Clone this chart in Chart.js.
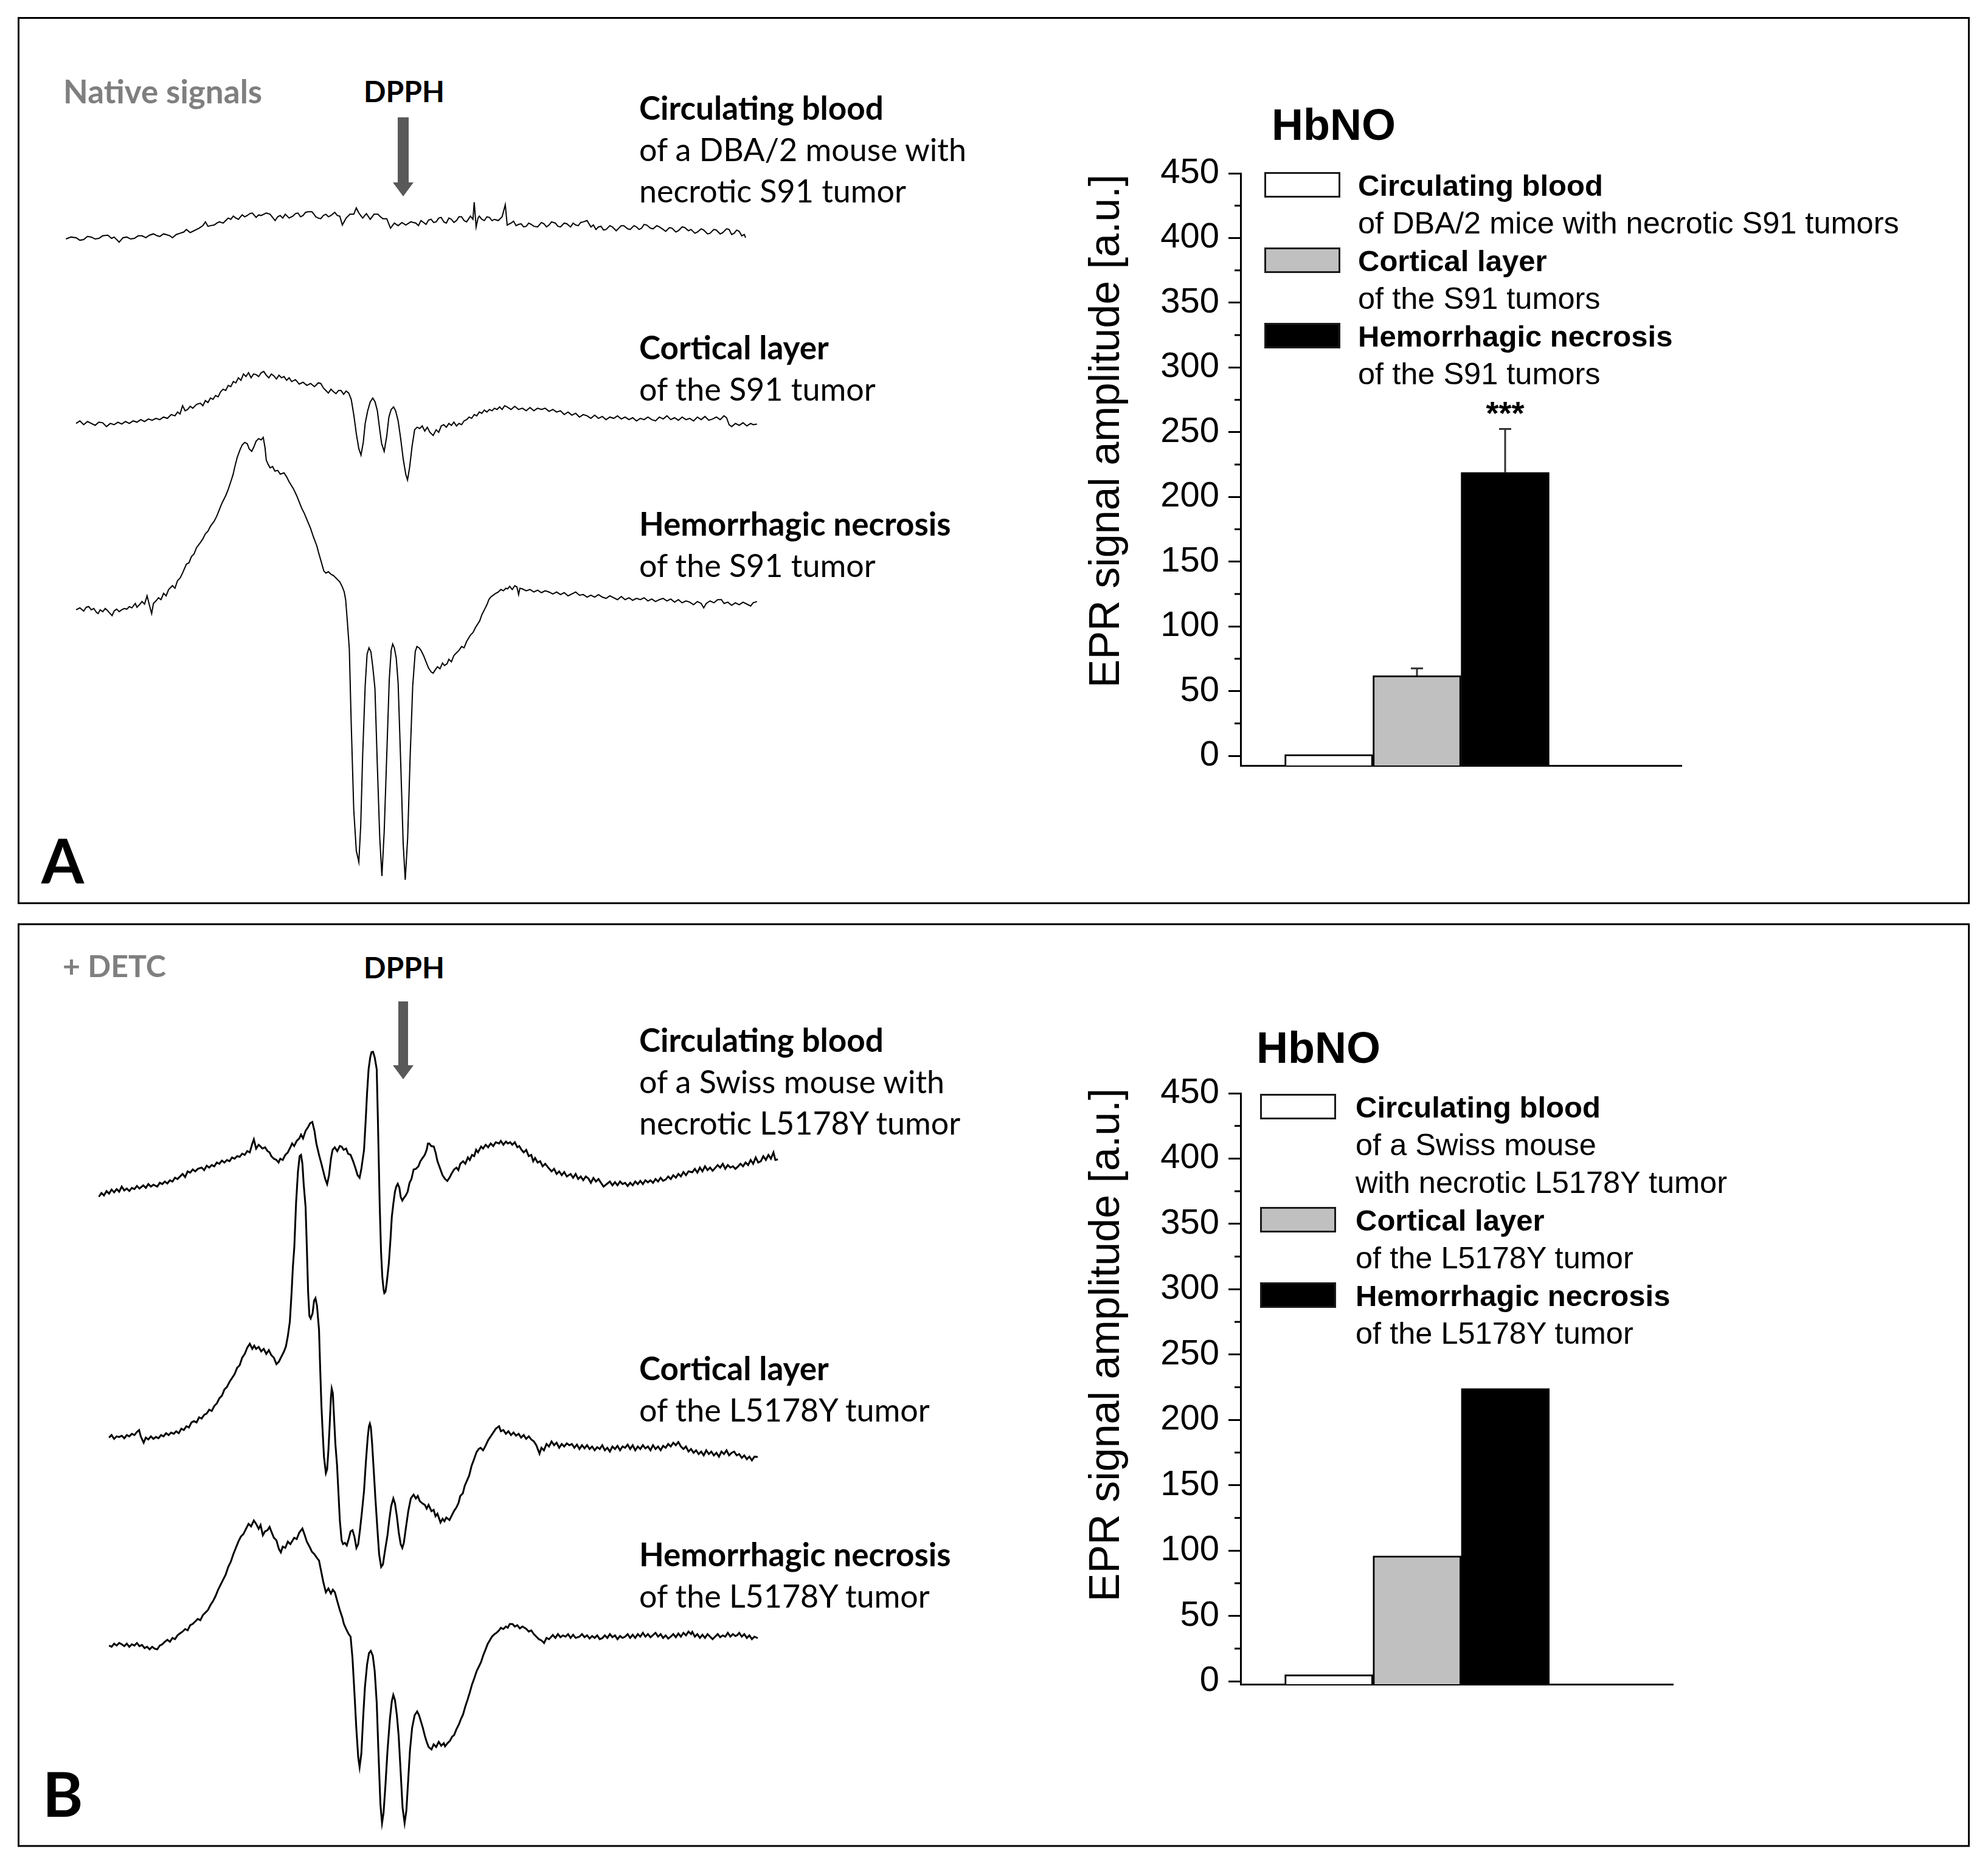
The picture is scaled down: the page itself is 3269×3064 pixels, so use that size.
<!DOCTYPE html>
<html>
<head>
<meta charset="utf-8">
<script src="https://cdn.jsdelivr.net/npm/chart.js@4.4.0/dist/chart.umd.min.js"></script>
<style>
  body { margin: 0; background: #fff; }
  #page { position: relative; width: 3269px; height: 3064px; background: #fff; overflow: hidden; }
  canvas { position: absolute; }
  .t { position: absolute; font-family: Lato, 'Open Sans', sans-serif; font-size: 52px; line-height: 68px; color: #000; white-space: nowrap; }
  .t b { font-weight: 700; font-size: 53px; }
  .hdr { font-weight: 700; font-size: 53px; }
  .grey { color: #7f7f7f; }
  .panel { position: absolute; font-family: Lato, sans-serif; font-weight: 700; font-size: 101px; line-height: 101px; }
  .arial { position: absolute; font-family: 'Liberation Sans', Arial, sans-serif; color: #000; white-space: nowrap; }
  .ytitle { font-size: 70px; transform: translate(-50%, -50%) rotate(-90deg); }
  .hb { font-size: 72px; line-height: 72px; font-weight: 700; }
  .leg { font-size: 50.5px; line-height: 62px; }
  .leg.first { font-size: 49px; font-weight: 700; }
  .box { position: absolute; width: 125px; height: 42px; box-sizing: border-box; border: 3px solid #1a1a1a; }
</style>
</head>
<body>
<div id="page">
  <svg width="3269" height="3064" style="position:absolute;left:0;top:0">
    <rect x="30.5" y="29.5" width="3207" height="1456" fill="none" stroke="#000" stroke-width="3"/>
    <rect x="30.5" y="1520" width="3207" height="1516" fill="none" stroke="#000" stroke-width="3"/>
    <rect x="654" y="193" width="18" height="110" fill="#595959"/>
    <polygon points="646,300 680,300 663,323" fill="#595959"/>
    <rect x="655" y="1647" width="16" height="108" fill="#595959"/>
    <polygon points="646,1752 680,1752 663,1775" fill="#595959"/>
  </svg>

  <div class="t hdr grey" style="left:104px;top:116px">Native signals</div>
  <div class="t hdr" style="left:598px;top:116px;font-size:48px">DPPH</div>
  <div class="t" style="left:1051px;top:143px"><b>Circulating blood</b><br>of a DBA/2 mouse with<br>necrotic S91 tumor</div>
  <div class="t" style="left:1051px;top:537px"><b>Cortical layer</b><br>of the S91 tumor</div>
  <div class="t" style="left:1051px;top:827px"><b>Hemorrhagic necrosis</b><br>of the S91 tumor</div>
  <div class="panel" style="left:68px;top:1364px">A</div>

  <div class="t hdr grey" style="left:103px;top:1554px;font-size:50px">+ DETC</div>
  <div class="t hdr" style="left:598px;top:1557px;font-size:48px">DPPH</div>
  <div class="t" style="left:1051px;top:1676px"><b>Circulating blood</b><br>of a Swiss mouse with<br>necrotic L5178Y tumor</div>
  <div class="t" style="left:1051px;top:2216px"><b>Cortical layer</b><br>of the L5178Y tumor</div>
  <div class="t" style="left:1051px;top:2522px"><b>Hemorrhagic necrosis</b><br>of the L5178Y tumor</div>
  <div class="panel" style="left:70px;top:2899px">B</div>

  <div class="arial hb" style="left:2091px;top:169px">HbNO</div>
  <div class="arial ytitle" style="left:1816px;top:709px">EPR signal amplitude [a.u.]</div>
  <div class="arial hb" style="left:2066px;top:1687px">HbNO</div>
  <div class="arial ytitle" style="left:1816px;top:2212px">EPR signal amplitude [a.u.]</div>
  <div id="legendA"></div>
  <div id="legendB"></div>

  <canvas id="tracesA" width="1334" height="1486" style="left:0;top:0"></canvas>
  <canvas id="tracesB" width="1334" height="1578" style="left:0;top:1486px"></canvas>
  <canvas id="barsA" width="885" height="1084" style="left:1900px;top:230px"></canvas>
  <canvas id="barsB" width="871" height="1082" style="left:1900px;top:1743px"></canvas>
</div>
<script>
// EPR spectra: [field (a.u.), signal amplitude (a.u.)]
const nativeBlood = [[52,0.5],[56,2],[60,1.5],[63,-0.5],[66,0],[69,2.5],[72,2],[75,0.5],[78,1],[81,3],[85,3.5],[88,1],[90,2],[94,-2],[97,1.5],[100,2],[103,0.5],[106,1],[109,3],[112,3],[115,1.5],[118,3.5],[121,4.5],[124,3],[126,2.5],[129,4.5],[131,4],[134,3],[136,1.5],[139,4],[142,5],[145,6],[147,8],[150,5.5],[152,6.5],[155,8],[157,9],[160,11],[162,14],[164,10.5],[166,11],[169,11.5],[171,13],[173,14],[176,13],[178,15],[180,17],[182,16],[184,18.5],[186,17],[188,16],[191,19.5],[193,18],[195,19],[197,20.5],[199,21],[202,17.5],[204,19.5],[206,19],[208,20],[210,21],[213,20],[215,17.5],[217,15],[219,18],[221,19],[223,17],[225,20],[228,17],[231,18.5],[233,20.5],[235,21],[237,18],[239,19],[241,21.5],[243,22],[246,22],[248,19.5],[249,18],[251,17],[253,16.5],[255,19],[257,20],[259,18],[261,19],[264,21.5],[266,19],[268,18.5],[270,11.5],[273,17],[276,20],[279,20],[281,25],[283,21],[286,17],[289,20.5],[292,16],[295,20],[298,20],[300,18],[302,16.5],[305,16.5],[308,9],[311,13],[314,11],[317,13.5],[320,11.5],[324,14],[328,13],[330,11],[332,15],[336,12],[338,15.5],[340,16],[342,13.5],[344,14],[346,17],[348,17.5],[350,14],[352,13],[354,17],[356,16],[358,13.5],[360,15],[362,18],[364,18],[366,15],[368,14],[371,18.5],[373,16],[374,29.5],[375.5,10],[377,17],[378,18.5],[380,16],[382,15],[384,18],[386,17.5],[388,15],[390,16],[393,15],[396,18],[398.5,27.5],[400,11.5],[403,13],[405,14.5],[407,11],[409,12],[411,12.5],[413,10],[415,10.5],[417,13],[419,12],[421,10.5],[424,10],[427,13.5],[429,12.5],[431,10],[433,11.5],[435,14],[438,13],[440,10.5],[442,10],[445,13],[447,12.5],[450,10],[452,13],[454,11.5],[456,11],[458,13.5],[460,14],[463,15],[466,10],[468,11.5],[470,8],[472,10],[474,10.5],[476,7.5],[478,8],[481,11],[483,10],[486,7],[488,9],[490,11],[492,11],[495,8.5],[497,8],[500,11],[502,10],[504,8],[506,9],[508,12],[510,11.5],[513,9],[515,8.5],[518,11],[520,10],[523,8],[525,6.5],[528,9.5],[530,9],[533,6],[535,7],[538,10],[540,9.5],[543,7],[545,8],[548,5],[550,6],[553,8.5],[555,7.5],[558,4.5],[560,5],[563,8],[565,7.5],[568,4.5],[570,5.5],[573,8.5],[575,8],[577,4],[579,5],[581,7.5],[583,6.5],[585,3],[587,4],[588,1.5]];

const nativeCortex = [[60,0],[63,2],[66,-1],[69,1.5],[72,0],[75,-1.5],[78,1],[81,0.5],[84,-2.5],[87,0],[90,-1],[93,1],[96,-0.5],[99,1.5],[102,0],[105,2],[108,1],[111,3],[114,1.5],[117,3.5],[120,2.5],[123,4],[126,3],[129,5],[132,4],[135,7],[138,6],[140,9],[142,7.5],[144,14],[146,10],[148,11],[150,13.5],[152,12],[155,15],[158,16],[160,14],[162,18],[164,16.5],[166,20],[168,19],[170,22],[172,21],[174,25],[176,27],[178,26],[180,30],[182,29],[184,33],[186,32],[188,36],[190,34],[192,39],[194,37],[196,40],[198,36],[200,39],[202,38.5],[204,37],[206,40],[208,41],[210,38],[212,36],[214,39],[216,37.5],[218,35],[220,38],[222,36],[224,37],[226,34],[228,36],[230,33],[233,34.5],[236,31],[239,32.5],[242,30],[245,31.5],[248,29],[251,32],[253,31.5],[255,28],[257,26],[259,24],[261,27],[263,25],[265,23.5],[267,26],[269,26],[271,23],[273,25.5],[275,24],[277,19],[279,7],[281,-8],[283,-20],[284.7,-25],[286.5,-15],[288,0],[290,10],[292,17],[294,20],[295.8,17],[297.6,10],[299.5,-5],[301,-16],[303,-22],[305,-10],[306.7,5],[308.5,11],[310.4,13],[312,10],[314,2],[316,-12],[318,-28],[320,-40],[321.4,-44.6],[323,-35],[325,-18],[327,-5],[329,-3],[331,-4],[333,-2],[335,-6],[337,-3],[339,-7],[341.6,-9.5],[344,-5],[346,-7],[348,-2],[350,-1],[352,-3],[354,0],[356,-1.5],[358,1],[360,-2],[362,0],[364,-1],[366,2],[368,3],[370,5],[372,4],[374,7],[376,6],[378,9],[380,8],[382,10.5],[384,9],[386,11],[388,10],[390,12],[392,11],[394,13],[396,11],[398,14],[400,13],[403,11],[406,13.5],[409,11],[412,12],[415,10],[418,12.5],[421,10],[424,12],[427,11],[430,12],[433,9.5],[436,11],[439,9],[442,10],[445,7],[448,9],[451,6.5],[454,8],[457,5],[460,7],[463,6],[466,4],[469,6.5],[472,4],[475,5.5],[478,3],[481,5],[484,4],[487,6],[490,3.5],[493,5],[496,3],[499,4.5],[502,2],[505,4],[508,3],[511,5],[514,3],[517,2],[520,5],[523,3.5],[526,6],[529,3],[532,4.5],[535,2.5],[538,5],[541,3],[544,4],[547,2],[550,5],[553,3],[556,5.5],[559,2.5],[562,3.5],[565,5],[568,3],[571,6],[573,4.5],[575,-1],[577,-2.5],[580,0],[583,-1.5],[586,0.5],[589,-2],[592,0],[594,-1],[597,-0.5]];

const nativeNecrosis = [[60,0],[63,1.5],[66,-1],[68,2],[70,2.5],[72,0],[74,1],[76,-2],[77.4,-3],[79,0],[81,-1.5],[83,1],[84.7,-0.5],[86,-2],[88.4,-4.6],[90,-1],[92,0.5],[94,-1.5],[96,0],[98,1],[100,0.5],[102,2.5],[104,1.5],[106.7,5],[108,2],[110,4],[112,6.5],[114,4.5],[116,11],[118,3],[119.6,-3],[121,5],[123,7],[125,9.5],[127,8],[129,13],[131,11],[133,16],[136,19],[138,17],[140,23],[142,25],[144,29],[147,36],[149,37],[151,42],[153,44],[155,49],[158,53],[160,56],[162,60],[164,62],[166,66],[169,70],[171,74],[173,79],[175,84],[176.5,87],[178,90],[180,95],[182,101],[183.8,106.6],[185,112],[187,120],[189.3,126.3],[191,130],[193,132],[195,131],[196.5,127],[198.5,125],[200,128],[202,133],[204,135],[206,134],[207.6,136],[209,128],[210,118],[211.3,115],[213,112],[215,113],[216.8,109.4],[219,110],[221,107],[224,108],[226,105],[228,101],[231.5,95.3],[234,90],[236,85],[238,80],[240,76],[242.5,70],[245,64],[247,58],[249.9,50.3],[251,46],[253,39],[255.4,30.6],[257,29],[259,30],[261,28],[263,27],[265,25],[268,22],[270,18],[271.5,14],[272.6,8],[274,-10],[275.5,-31],[277,-90],[279,-158],[281,-190],[283,-199],[284.5,-170],[286,-115],[288,-60],[289.5,-35],[291,-30],[292.5,-33],[294,-45],[295.7,-62],[297.5,-120],[299.5,-180],[301.2,-210],[303,-175],[305,-115],[307,-55],[308.5,-32],[309.7,-27],[311,-30],[312.5,-38],[314,-58],[316,-120],[318,-185],[319.6,-213],[321.5,-180],[323.5,-115],[325.5,-60],[327.5,-33],[328.8,-29],[330.5,-30],[332,-32],[334,-36],[336,-41],[338,-46],[340,-49],[341.6,-50],[343.5,-47],[345,-45],[347,-46.5],[349,-42],[350.5,-44],[352.6,-42.6],[354,-39],[356,-41],[358,-36],[360,-34],[362,-32],[364,-29],[366,-30],[368,-25],[371,-20],[373,-18],[375,-14],[378.3,-8.8],[380,-4],[382,0],[384,4],[385.6,8.1],[387,10],[389,11.5],[391,13],[393,14],[395,16],[397,15],[399,17],[400.3,16.5],[402,18.5],[404,16],[406,19],[407.7,18],[409,12],[410,17],[412,16.5],[415,15],[418,16],[421,14],[424,15.5],[427,13.5],[430,15],[433,14],[436,12.5],[439,14],[442,12],[445,13.5],[448,11],[451,12.5],[454,14],[457,11.5],[460,12],[463,10],[466,11.5],[469,10],[472,12],[475,10],[478,9],[481,11],[484,9.5],[487,8],[490,10.5],[493,8],[496,9.5],[499,7.5],[502,9],[505,8],[508,9.5],[511,7],[514,8.5],[517,6.5],[520,8],[523,9],[526,7],[529,8.5],[532,6],[535,8],[538,5.5],[541,7],[544,6],[547,4],[550,6.5],[553,5],[555,1.5],[557,5],[560,7],[563,5.5],[566,8],[569,8],[571,5],[574,6],[577,3.5],[580,5.5],[583,4],[586,6],[589,4.5],[592,3],[594,5.5],[597,6.5]];

const detcBlood = [[78,-2],[80,1],[82,-1],[84,2.5],[86,0.5],[88,3.7],[90,1.5],[92,4],[94,2],[96,6],[98,3],[100,4.5],[102,2.5],[104,5],[106,4],[108,6.5],[110,4.5],[113,7],[115,5],[117,8],[119,6],[121,7.5],[124,6],[126,9],[128,8],[130,10],[132,8.5],[134,11],[136,10],[138,13],[140,12],[142,14],[144,16],[146,13.5],[148,18],[150,17],[152,19.5],[154,18],[156,20],[159,21],[161,19],[163,22.5],[165,21],[167,23],[169,22],[171,25],[173,24],[175,26.5],[177,25],[179,27],[181,26],[183,29],[185,28],[187,30],[189,29.5],[191,32],[193,31],[195,34],[197,33],[199,40],[200.2,43.3],[202,36],[204,39],[205.5,37.6],[207,36],[209,37],[211,34],[212.6,33],[214,30],[216,28],[218,27],[219.7,25],[221,28],[223,27],[225,31],[227,33],[229,37],[230.4,40],[232,38],[234,42],[236,44],[237.4,47],[239,44],[241,50],[243,53],[244.6,56],[246.3,57],[248,50],[249.5,40],[251.6,31],[253.5,24],[255,18],[256.5,12],[258,8],[259.5,15],[261,28],[262.3,35],[264,37],[266,34],[268,38],[269.4,37.6],[271,35],[273,36],[274.5,32],[276.5,31],[278.5,26],[280.5,20],[282,15],[283.6,13],[285,20],[287.1,35],[288.5,60],[289.5,80],[290.7,98.7],[292,108],[293,112],[294.2,112.3],[295.5,108],[297.1,98.7],[298,60],[299.5,-10],[300.5,-45],[301.5,-65],[302.5,-75],[303.1,-78],[304,-77],[305,-70],[306.6,-55],[308,-35],[309,-18],[310.2,-7.6],[311.5,2],[312.5,6],[313.7,8.2],[315,5],[316,-2],[317.3,-5],[318.5,-3],[320,-1],[321.5,2],[323,9],[324.5,12],[326.2,19.5],[328,20],[330,22],[331.5,26],[333.3,28.6],[335,31],[336.5,35],[337.5,40],[338.6,40],[340,38],[342.1,37.6],[343.5,33],[345,26],[347.4,19.5],[349,15],[351,12],[352.8,10.5],[354.5,13],[356,16],[358.1,19.5],[360,21],[361.5,19],[363,24],[365.2,26],[367,24],[369,29],[370.5,27],[372.3,31],[374,30],[375.5,35],[377,33],[379.4,37.6],[381,36],[383,39],[385,37],[387,40],[389,38],[391,41],[393.6,40],[395,42],[397,39],[399,41.5],[400.5,40],[402.4,41],[404,39],[406,41],[408,37],[409.5,38],[411.3,35],[413,33],[415,35],[417,30],[419,31],[420.5,26],[422,28.6],[424,25],[426,26],[428,22],[430,24],[432.6,20.7],[435,18],[437,20],[439,16],[441,18],[443,15],[445,17.5],[447,14],[450,16],[452,13],[454,16],[456,12],[458,14],[460,11],[462,14],[464,12.5],[466,9],[468,12.8],[470,10],[472,12],[474,9],[476,6],[478.7,8.2],[481,10],[483,7],[485,9.5],[487,7],[489,10],[491,8],[493,9],[495,6.5],[497,9],[499,7],[501,10],[503,8],[505,10.5],[507,8],[509,11],[511,9.4],[513,11],[515,9],[517,12],[519,10],[521,13],[523,10.5],[525,11.6],[527,14],[529,12],[531,15],[533,13],[535,16],[537,14],[539,17.5],[541,15],[543,18],[546,17.3],[548,20],[550,17],[552,21],[554,18],[556,22],[558,19],[560,21],[562,18.5],[564,20.7],[566,23],[568,21],[570,24],[572,20],[574,23],[576,21],[578,22],[580,20],[582,21.8],[584,24],[586,22],[588,25],[590,23],[592,27],[594,24],[596,29],[598,25],[600,26],[602,30],[604,27],[606,31],[608,28],[610,33],[611.5,27],[613.5,27.5]];

const detcCortex = [[86,0],[88,2],[90,-1],[92,1],[94,0.5],[96,1.5],[98,-0.5],[100,2],[102,1],[104,3],[106,2],[108,4.5],[109.7,6],[111,1],[113.3,-4],[115,0],[117,-1.5],[119,1],[121,-1],[123,0.5],[125,-0.5],[127,2],[129,1],[131,3.5],[133,2],[135,4],[137,3],[139,5],[141,3.5],[143,7],[145,6],[147,9],[149,8],[151,12],[153,13],[155,12],[157,16],[159,15],[161,18],[163,19],[165,22],[167,21],[169,25],[171,27],[173,31],[175,33],[177,38],[179,40],[181,44],[183,47],[185,50],[187,55],[189,57],[191,63],[193,66],[195,71],[197,74],[199,70],[200.5,72.5],[202,70],[204,71.5],[206,68],[208,70],[210,66],[212,69],[214,65],[216,63],[218,58],[220,60],[222,64],[224,68],[225.5,72],[227,80],[228.6,91.6],[230,115],[231,135],[232.1,150],[233.5,185],[235,210],[236.3,222],[237.4,223],[238.5,216],[239.5,200],[241,182],[242,150],[243,115],[244,96],[245,94],[246.5,98],[247.7,108],[248.8,110],[250,104],[251.6,85],[252.5,55],[253.5,25],[254.5,4],[255.5,-15],[257,-28],[258,-25],[259,-10],[260,10],[261,32],[261.6,38.7],[262.5,35],[263.5,15],[264.5,-5],[265.8,-21.5],[267,-45],[268,-65],[269.4,-81],[270.5,-84],[272,-83],[273.5,-85],[275,-80],[276.5,-74],[278,-73],[279.5,-78],[281.1,-87],[282.5,-84],[284,-72],[285.5,-58],[287.1,-42],[288.5,-20],[290,0],[291,9],[291.7,11],[292.5,8],[293.5,-5],[295,-30],[296,-47],[297.5,-70],[299,-92],[300.6,-102],[302,-100],[303.5,-90],[305.6,-77],[307,-65],[308.5,-54],[310.2,-48],[311.5,-52],[313,-62],[314.5,-75],[316,-84],[317.3,-87],[318.5,-83],[320,-72],[322,-58],[324,-48],[326.2,-45],[328,-48],[329.5,-46],[331,-50],[333.3,-52],[335,-53],[336.5,-56],[338,-53],[340.3,-58],[342,-57],[343.5,-62],[345,-60],[347.4,-67],[349,-64],[350.5,-66],[352,-63],[354.5,-65],[356,-62],[358,-58],[360,-55],[361.6,-51.6],[363,-46],[365,-44],[366.5,-38],[368.7,-33],[370,-30],[372,-22],[373.5,-18],[375.8,-11.5],[377.5,-9],[379,-8],[381,-10],[382.9,-6.5],[385,-2],[387,1],[389,4],[391,7],[393.6,9],[395,5],[397,6],[399,3],[401,5],[403,2],[405,4],[407,1.5],[409,3],[411,0],[413,2],[415,-1],[417,1],[419,-1.5],[421,-3],[423,-6],[425.5,-12.7],[427,-8],[429,-10],[431,-5],[433,-7],[435,-3],[437,-6],[439,-4],[441,-8],[443,-5],[445,-7],[447,-4.5],[449,-6],[451,-5],[453,-8],[455,-5.5],[457,-9],[459,-6],[461,-8.5],[463,-6],[465,-9],[467,-7],[469,-10],[471,-7.5],[473,-9],[475,-6],[477,-10],[479,-8],[481,-11],[483,-7],[485,-9],[487,-6.5],[489,-10],[491,-7],[493,-8],[495,-5.5],[497,-9],[499,-6],[501,-10],[503,-7],[505,-9],[507,-6],[509,-8.5],[511,-7],[513,-10],[515,-6],[517,-9],[519,-7],[521,-10],[523,-6.5],[525,-8],[527,-5],[529,-7],[531,-4],[533,-6],[535,-3.5],[537,-7],[539,-9],[541,-7],[543,-11],[545,-9],[547,-12],[549,-10],[551,-13],[553,-11],[555,-14],[557,-10],[559,-13],[561,-11],[563,-14],[565,-12],[567,-15],[569,-11],[571,-13],[573,-10],[575,-14],[577,-12],[579,-11],[581,-14],[583,-13],[585,-16],[587,-14],[589,-17],[591,-15],[593,-18],[595,-15],[597.6,-15.3]];

const detcNecrosis = [[86,0],[88,-1],[90,1.5],[92,0],[94,2],[96,1],[98,-0.5],[100,1.5],[102,-1],[104,1],[106,0],[108,2],[110,-0.5],[112,0.5],[114,-2],[116,-1],[118,-3],[120,-1],[122,-2.5],[124,-3],[126,0],[128,1],[130,3],[132,4.5],[134,3],[136,6],[138,5],[140,8],[142,9.6],[144,11],[146,13],[148,12],[150,16],[152,17],[154,19],[156,21],[158,20],[160,24],[162,26],[164,28],[166,32],[168,35],[170,39],[172,44],[174,48],[176,52],[178,56],[180,62],[182,66],[184,72],[186,77],[188,82],[190,86],[192,88],[194,92],[196,96],[198,94],[200.2,98.6],[202,96],[204,92],[205.5,95],[207.3,87],[209,90],[211,91],[212.6,93.6],[214,90],[216,85],[218,83],[220,76],[221.5,73.5],[223,78],[225,77],[227,82],[229,80],[230.4,82.3],[232,85],[234,84],[236,89],[238.5,92.3],[240,88],[242,82],[244.6,77],[246,74],[248,72],[250,69],[251.6,67],[253,60],[255,50],[257,42],[259,45],[261,41],[262.5,44],[264.1,42],[266,35],[268,28],[270,22],[271.2,17],[273,13],[275,9],[276.5,7],[278,-10],[279.3,-33],[281,-65],[282.5,-88],[283.6,-96],[285,-85],[286.5,-55],[287.8,-33],[289.5,-15],[291,-6],[292.4,-4.2],[294,-8],[295.5,-20],[297.1,-45],[298.5,-85],[300,-125],[301.3,-140],[302.5,-132],[304,-110],[305.6,-83],[307.5,-58],[309,-44],[310.2,-39],[311.5,-43],[313,-55],[314.4,-71],[316,-100],[317.5,-128],[319.1,-140],[320.5,-130],[322,-105],[323.3,-83],[325,-65],[327,-55],[329,-52],[330.5,-55],[332,-60],[333.5,-65],[335,-71],[336.5,-76],[338,-80],[340.3,-82],[342,-78],[344,-80],[346,-76],[348,-79],[350,-77],[351,-79.5],[353,-77],[355,-75],[356.5,-72],[358.1,-70.7],[360,-66],[362,-62],[363.5,-58],[365.2,-54.4],[367,-48],[369,-42],[370.5,-37],[372.3,-30.6],[374,-26],[376,-20],[377.5,-17],[379.4,-13],[381,-8],[383,-3],[384.5,1],[386.5,4.5],[388,7],[390,9],[391.5,10],[393.6,12],[395,14],[397,13],[399,15],[400.5,14],[402,17],[404.2,17],[406,15],[408,16],[410,13.5],[412,15],[414.9,13.3],[417,11],[419,12],[421,9],[423,7],[425,5],[427,4],[429.1,2],[431,6],[433,5],[436,8.3],[438,6],[440,9],[442,6.5],[444,8],[446,7],[448,9],[450,6],[452,8.5],[454,6],[457,7],[459,9],[461,6.5],[463,8],[465,5.5],[467,7.5],[469,6],[471,8],[473,5],[475,5.8],[477,8],[479,6],[481,9],[483,6.5],[485,8],[487,5],[489,7.5],[491,6],[493,7],[495,9],[497,6],[499,8.5],[501,6],[503,9],[505,7],[507,10],[509,7],[511,9],[513,6.5],[515,8.3],[517,10],[519,7],[521,9],[523,6],[525,8],[527,5.5],[529,7],[531,9],[533,6.5],[535,9.5],[537,7],[539,10],[541,8],[543,11],[545,9],[546,10.8],[548,7],[550,9],[552,6],[554,8.5],[556,6],[558,9],[560,7],[562,5],[564,7],[566,9],[568,6.5],[570,8],[572,7],[574,10],[576,7],[578,9],[580,7.5],[581.6,8.3],[583,10],[585,7],[587,9],[589,6],[591,8],[593,5],[595,7],[597.6,5.8]];

// HbNO bar charts
const categories = ['Circulating blood', 'Cortical layer', 'Hemorrhagic necrosis'];
const barSlots = [1, 2, 3];
const hbnoNative = [1, 62, 219];
const hbnoNativeErr = [0, 5.5, 33.5];
const hbnoNativeSig = ['', '', '***'];
const hbnoDetc = [5, 96, 224];
const hbnoDetcErr = [0, 0, 0];
const hbnoDetcSig = ['', '', ''];
const yTicks = [0, 50, 100, 150, 200, 250, 300, 350, 400, 450];
const yMinorTicks = [25, 75, 125, 175, 225, 275, 325, 375, 425];
const legendNative = [['of DBA/2 mice with necrotic S91 tumors'], ['of the S91 tumors'], ['of the S91 tumors']];
const legendDetc = [['of a Swiss mouse', 'with necrotic L5178Y tumor'], ['of the L5178Y tumor'], ['of the L5178Y tumor']];

const UNIT = 2.085; // page px per trace unit
const barFills = ['#ffffff', '#c0c0c0', '#000000'];

Chart.defaults.font.family = "'Liberation Sans', Arial, sans-serif";
Chart.defaults.color = '#000';

function drawTraces(id, series, baselines, topPx, lineWidth) {
  const canvas = document.getElementById(id);
  const span = canvas.height / UNIT, top = topPx / UNIT;
  const scales = { x: { type: 'linear', display: false, min: 0, max: canvas.width / UNIT } };
  const datasets = series.map((pts, i) => {
    const max = baselines[i] - top;
    scales['y' + i] = { type: 'linear', display: false, min: max - span, max: max };
    return {
      data: pts.map(p => ({ x: p[0], y: p[1] })),
      yAxisID: 'y' + i,
      borderColor: '#000',
      borderWidth: lineWidth,
      pointRadius: 0,
      tension: 0,
      fill: false
    };
  });
  new Chart(canvas, {
    type: 'line',
    data: { datasets },
    options: {
      responsive: false, animation: false, events: [],
      layout: { padding: 0 },
      plugins: { legend: { display: false }, tooltip: { enabled: false } },
      scales
    }
  });
}

const minorTicks = {
  id: 'minorTicks',
  afterDraw(chart, args, opts) {
    const y = chart.scales.y, ctx = chart.ctx, left = chart.chartArea.left;
    ctx.save();
    ctx.strokeStyle = '#000';
    ctx.lineWidth = 3;
    opts.values.forEach(v => {
      const p = y.getPixelForValue(v);
      ctx.beginPath(); ctx.moveTo(left - 10, p); ctx.lineTo(left, p); ctx.stroke();
    });
    ctx.restore();
  }
};

const errorBars = {
  id: 'errorBars',
  afterDatasetsDraw(chart, args, opts) {
    const meta = chart.getDatasetMeta(0), y = chart.scales.y, ctx = chart.ctx;
    const data = chart.data.datasets[0].data;
    ctx.save();
    meta.data.forEach((bar, i) => {
      const err = opts.errors[i] || 0;
      const top = y.getPixelForValue(data[i].y + err);
      if (err) {
        ctx.strokeStyle = '#333';
        ctx.lineWidth = 3;
        ctx.beginPath();
        ctx.moveTo(bar.x, bar.y); ctx.lineTo(bar.x, top);
        ctx.moveTo(bar.x - 10, top); ctx.lineTo(bar.x + 10, top);
        ctx.stroke();
      }
      if (opts.marks[i]) {
        ctx.fillStyle = '#000';
        ctx.font = "bold 54px 'Liberation Sans', Arial, sans-serif";
        ctx.textAlign = 'center';
        ctx.textBaseline = 'middle';
        ctx.fillText(opts.marks[i], bar.x, top - 22);
      }
    });
    ctx.restore();
  }
};

function drawBars(id, values, errors, marks, yMin, xMax) {
  new Chart(document.getElementById(id), {
    type: 'bar',
    data: {
      datasets: [{
        data: barSlots.map((x, i) => ({ x: x, y: values[i] })),
        base: yMin,
        backgroundColor: barFills,
        borderColor: '#000',
        borderWidth: 3,
        borderSkipped: 'start',
        barPercentage: 1,
        categoryPercentage: 1
      }]
    },
    options: {
      responsive: false, animation: false, events: [],
      layout: { padding: { left: 0, right: 20, top: 55, bottom: 55 } },
      plugins: {
        legend: { display: false }, tooltip: { enabled: false },
        minorTicks: { values: yMinorTicks },
        errorBars: { errors: errors, marks: marks }
      },
      scales: {
        x: {
          type: 'linear', min: 0, max: xMax, offset: false,
          afterBuildTicks: s => { s.ticks = barSlots.map(v => ({ value: v })); },
          grid: { display: false, drawTicks: false },
          ticks: { display: false },
          border: { display: true, color: '#000', width: 3 }
        },
        y: {
          type: 'linear', min: yMin, max: 450,
          afterBuildTicks: s => { s.ticks = yTicks.map(v => ({ value: v })); },
          afterFit: s => { s.width = 140; },
          grid: { drawOnChartArea: false, drawTicks: true, tickLength: 20, tickWidth: 3, tickColor: '#000' },
          border: { display: true, color: '#000', width: 3 },
          ticks: { padding: 15, color: '#000', font: { size: 58 } }
        }
      }
    },
    plugins: [minorTicks, errorBars]
  });
}

function buildLegend(id, firstCenter, boxLeft, textLeft, subLines) {
  const host = document.getElementById(id);
  let row = 0, html = '';
  categories.forEach((name, i) => {
    const cy = firstCenter + row * 62;
    html += '<div class="box" style="left:' + boxLeft + 'px;top:' + (cy - 21) + 'px;background:' + barFills[i] + '"></div>';
    const lines = [name].concat(subLines[i]);
    lines.forEach((t, j) => {
      html += '<div class="arial leg' + (j === 0 ? ' first' : '') + '" style="left:' + textLeft + 'px;top:' + (cy + j * 62 - 30.5) + 'px">' + t + '</div>';
    });
    row += lines.length;
  });
  host.innerHTML = html;
}

drawTraces('tracesA', [nativeBlood, nativeCortex, nativeNecrosis], [189, 334, 481], 0, 2);
drawTraces('tracesB', [detcBlood, detcCortex, detcNecrosis], [942, 1134, 1298], 1486, 3);
drawBars('barsA', hbnoNative, hbnoNativeErr, hbnoNativeSig, -7.5, 5);
drawBars('barsB', hbnoDetc, hbnoDetcErr, hbnoDetcSig, -2.3, 4.9);
buildLegend('legendA', 304, 2079, 2233, legendNative);
buildLegend('legendB', 1820, 2072, 2229, legendDetc);
</script>
</body>
</html>
